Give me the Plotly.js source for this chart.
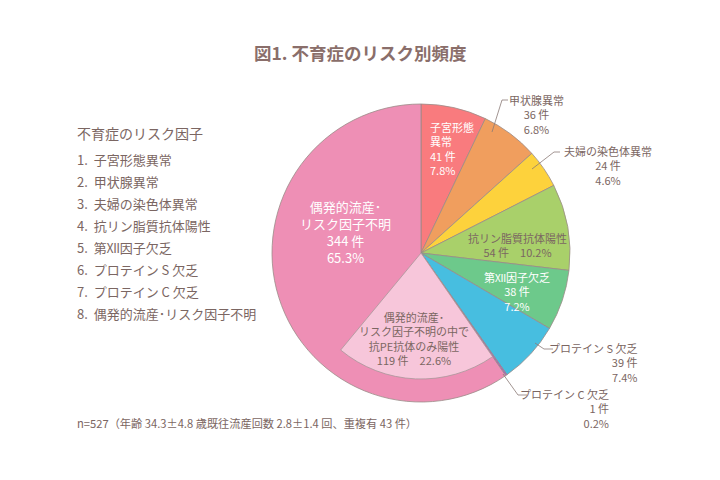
<!DOCTYPE html>
<html>
<head>
<meta charset="utf-8">
<script src="https://cdn.plot.ly/plotly-3.0.1.min.js"></script>
<style>html,body{margin:0;padding:0;background:#fff;}#chart{width:720px;height:480px;}</style>
</head>
<body>
<div id="chart"></div>
<script>
// ---- data ----
const categories = ["子宮形態異常","甲状腺異常","夫婦の染色体異常","抗リン脂質抗体陽性","第Ⅻ因子欠乏","プロテイン S 欠乏","プロテイン C 欠乏","偶発的流産・リスク因子不明"];
const counts = [41, 36, 24, 54, 38, 39, 1, 344];
const percents = [7.8, 6.8, 4.6, 10.2, 7.2, 7.4, 0.2, 65.3];
const subCount = 119;      // 偶発的流産・リスク因子不明の中で抗PE抗体のみ陽性
const subPercent = 22.6;
const legendTitle = "不育症のリスク因子";
const legendItems = ["子宮形態異常","甲状腺異常","夫婦の染色体異常","抗リン脂質抗体陽性","第Ⅻ因子欠乏","プロテイン S 欠乏","プロテイン C 欠乏","偶発的流産･リスク因子不明"];
const footnote = "n=527（年齢 34.3±4.8 歳既往流産回数 2.8±1.4 回、重複有 43 件）";
const colors = ["#F97B7E","#F09E5E","#FDD23C","#A9D06A","#6DC98B","#47BEE0","#A35FC8","#EE8FB5"];
const subColor = "#F7C6DA";

// ---- layout helpers ----
const W = 720, H = 480;
const px = x => x / W;
const py = y => 1 - y / H;
const cx = 421, cy = 253, R = 149, r2 = 126;
const txt = "#7B6662";
const font = "'Noto Sans CJK JP', 'Noto Sans', sans-serif";

const before = counts.slice(0, 7).reduce((a, b) => a + b, 0);
const after = counts[7] - subCount;

const mainPie = {
  type: "pie", values: counts, labels: categories, sort: false, direction: "clockwise", rotation: 0,
  marker: {colors: colors, line: {color: "#9A8C88", width: 0.8}},
  textinfo: "none", hoverinfo: "label+value", showlegend: false,
  domain: {x: [px(cx - R), px(cx + R)], y: [py(cy + R), py(cy - R)]}
};
const subPie = {
  type: "pie", values: [before, subCount, after], labels: ["a", "抗PE抗体のみ陽性", "b"], sort: false, direction: "clockwise", rotation: 0,
  marker: {colors: ["rgba(0,0,0,0)", subColor, "rgba(0,0,0,0)"], line: {color: ["rgba(0,0,0,0)", "#A8989A", "rgba(0,0,0,0)"], width: [0, 0.8, 0]}},
  textinfo: "none", hoverinfo: "skip", showlegend: false,
  domain: {x: [px(cx - r2), px(cx + r2)], y: [py(cy + r2), py(cy - r2)]}
};

const ann = [];
function A(text, x, y, opts) {
  ann.push(Object.assign({text: text, x: px(x), y: py(y), xref: "paper", yref: "paper", showarrow: false,
    font: {family: font, size: 11, color: txt}, xanchor: "center", yanchor: "middle"}, opts || {}));
}
const ken = i => counts[i] + " 件";
const pc = i => percents[i].toFixed(1) + "%";

// title
A("図1. 不育症のリスク別頻度", 360, 52, {font: {family: font, size: 17.5, color: "#8A6E6A", weight: "bold"}});
// left list
A(legendTitle, 75, 133, {xanchor: "left", font: {family: font, size: 14, color: txt}});
legendItems.forEach((s, i) => A((i + 1) + ".  " + s, 75, 160 + i * 21.9, {xanchor: "left", font: {family: font, size: 13, color: txt}}));
// footnote
A(footnote, 75, 423, {xanchor: "left", font: {family: font, size: 11.2, color: txt}});

const white = {family: font, size: 11, color: "#FFFFFF"};
// slice labels
A("子宮形態<br>異常<br>" + ken(0) + "<br>" + pc(0), 428, 148, {xanchor: "left", align: "left", font: white});
A(categories[1] + "<br>" + ken(1) + "<br>" + pc(1), 536, 114);
A(categories[2] + "<br>" + ken(2) + "<br>" + pc(2), 608, 165);
A(categories[3] + "<br>" + ken(3) + "　" + pc(3), 517, 245);
A(categories[4] + "<br>" + ken(4) + "<br>" + pc(4), 517, 291, {font: white});
A(categories[5] + "<br>" + ken(5) + "<br>" + pc(5), 639, 362, {xanchor: "right", align: "right"});
A(categories[6] + "<br>" + ken(6) + "<br>" + pc(6), 611, 408, {xanchor: "right", align: "right"});
A("偶発的流産･<br>リスク因子不明<br>" + ken(7) + "<br>" + pc(7), 345, 232, {font: {family: font, size: 13, color: "#FFFFFF"}});
A("偶発的流産･<br>リスク因子不明の中で<br>抗PE抗体のみ陽性<br>" + subCount + " 件　" + subPercent.toFixed(1) + "%", 414, 338);

// leader lines
function path(pts) {
  return {type: "path", xref: "paper", yref: "paper",
    path: pts.map((p, i) => (i ? "L" : "M") + px(p[0]) + "," + py(p[1])).join(" "),
    line: {color: "#8A7A76", width: 0.8}};
}
const shapes = [
  path([[492, 132], [502, 100], [508, 100]]),
  path([[532, 169], [554, 152], [560, 152]]),
  path([[535, 343], [544, 349], [553, 349]]),
  path([[503, 374], [518, 395], [527, 395]])
];

Plotly.newPlot("chart", [mainPie, subPie], {
  width: W, height: H, margin: {l: 0, r: 0, t: 0, b: 0},
  paper_bgcolor: "#FFFFFF", plot_bgcolor: "#FFFFFF",
  annotations: ann, shapes: shapes, showlegend: false
}, {displayModeBar: false, staticPlot: true});
</script>
</body>
</html>
